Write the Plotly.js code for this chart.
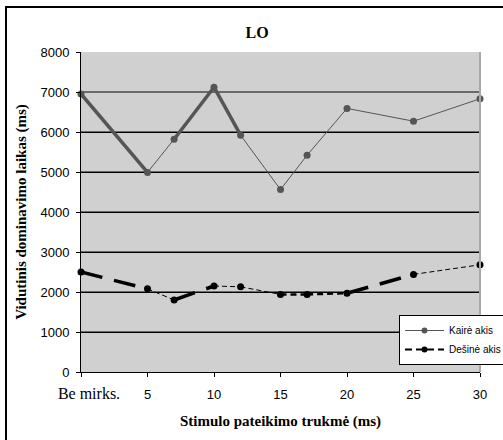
<!DOCTYPE html>
<html>
<head>
<meta charset="utf-8">
<script src="https://cdn.plot.ly/plotly-3.0.1.min.js"></script>
<style>
  html, body { margin:0; padding:0; background:#fff; overflow:hidden; }
  #frame { position:absolute; left:5px; top:6px; width:600px; height:600px; border:2px solid #000; }
  #chart { position:absolute; left:0; top:0; width:503px; height:440px; }
</style>
</head>
<body>
<div id="frame"></div>
<div id="chart"></div>
<script>
// ---- data ----
const xValues = [0, 5, 7, 10, 12, 15, 17, 20, 25, 30];
const kaireAkis = [6950, 4990, 5820, 7120, 5920, 4560, 5420, 6590, 6270, 6830];
const desineAkis = [2500, 2080, 1800, 2150, 2130, 1940, 1940, 1970, 2440, 2680];
const xTickVals = [0, 5, 10, 15, 20, 25, 30];
const xTickText = ['Be mirks.', '5', '10', '15', '20', '25', '30'];
const seriesNames = ['Kairė akis', 'Dešinė akis'];

// ---- segment styles ----
const leftSegStyle = ['thick','thin','thick','thick','thin','thin','thin','thin','thin'];
const rightSegStyle = ['long','thin','long','thin','thin','med','med','long','thin'];
const styleMap = {
  thick: {color:'#555555', width:3.5},
  thin:  {color:'#555555', width:1},
  long:  {color:'#000000', width:3.5, dash:'22px,12px'},
  rthin: {color:'#000000', width:1, dash:'5px,3px'},
  med:   {color:'#000000', width:2.5, dash:'6px,4px'}
};

const traces = [];
function addSegments(ys, segs, isRight) {
  for (let i = 0; i < ys.length - 1; i++) {
    let key = segs[i];
    if (isRight && key === 'thin') key = 'rthin';
    traces.push({
      x: [xValues[i], xValues[i+1]], y: [ys[i], ys[i+1]],
      mode: 'lines', line: styleMap[key], showlegend: false,
      hoverinfo: 'skip', cliponaxis: false
    });
  }
}
addSegments(kaireAkis, leftSegStyle, false);
addSegments(desineAkis, rightSegStyle, true);

traces.push({x: xValues, y: kaireAkis, mode:'markers', marker:{color:'#555555', size:7}, showlegend:false, cliponaxis:false, name: seriesNames[0]});
traces.push({x: xValues, y: desineAkis, mode:'markers', marker:{color:'#000000', size:7}, showlegend:false, cliponaxis:false, name: seriesNames[1]});

// legend entries
traces.push({x:[null], y:[null], yaxis:'y2', mode:'lines+markers', name: seriesNames[0],
  line:{color:'#555555', width:1}, marker:{color:'#555555', size:6}});
traces.push({x:[null], y:[null], yaxis:'y2', mode:'lines+markers', name: seriesNames[1],
  line:{color:'#000000', width:2, dash:'7px,4px'}, marker:{color:'#000000', size:6}});

const serif = 'Liberation Serif, Times New Roman, serif';
const sans = 'Liberation Sans, Arial, sans-serif';

const tickText = xTickText.map((t, i) => i === 0 ?
  '<span style="font-family:Liberation Serif;font-size:16px">&nbsp;&nbsp;&nbsp;&nbsp;' + t + '</span>' : t);

const layout = {
  width: 503, height: 440,
  margin: {l:81, r:23, t:52, b:68, autoexpand:false},
  paper_bgcolor: 'rgba(0,0,0,0)',
  plot_bgcolor: '#d0d0d0',
  title: {text:'<b>LO</b>', font:{family:serif, size:16, color:'#000'},
          x:0.511, xref:'container', y:1-32/440, yref:'container', yanchor:'middle', xanchor:'center'},
  xaxis: {
    range:[0,30], tickmode:'array', tickvals:xTickVals, ticktext:tickText,
    showgrid:false, zeroline:false, showline:true, linecolor:'#000', linewidth:1,
    ticks:'outside', ticklen:4, tickcolor:'#000', tickwidth:1,
    tickfont:{family:sans, size:13, color:'#000'}, ticklabelstandoff:6,
    title:{text:'<b>Stimulo pateikimo trukmė (ms)</b>', font:{family:serif, size:15, color:'#000'}, standoff:14}
  },
  yaxis: {
    range:[0,8000], dtick:1000, tick0:0,
    showgrid:true, gridcolor:'#6a6a6a', gridwidth:2, zeroline:false,
    showline:true, linecolor:'#000', linewidth:1,
    ticks:'outside', ticklen:4, tickcolor:'#000', tickwidth:1,
    tickfont:{family:sans, size:13, color:'#000'}, ticklabelstandoff:4,
    title:{text:'<b>Vidutinis dominavimo laikas (ms)</b>', font:{family:serif, size:15, color:'#000'}, standoff:10}
  },
  yaxis2: {
    overlaying:'y', range:[0,8000], tickmode:'array', tickvals:[1000,2000,3000,4000,5000,6000],
    showgrid:true, gridcolor:'#000', gridwidth:1, zeroline:false,
    showticklabels:false, ticks:'', showline:false
  },
  shapes: [
    {type:'line', xref:'paper', yref:'paper', x0:1, x1:1, y0:0, y1:1, line:{color:'#a8a8a8', width:2}}
  ],
  showlegend: true,
  legend: {
    x:(399-81)/399, y:(372-315)/320, xanchor:'left', yanchor:'top',
    bgcolor:'#ffffff', bordercolor:'#000', borderwidth:1,
    font:{family:sans, size:10, color:'#000'},
    tracegroupgap:0, itemwidth:39
  }
};

Plotly.newPlot('chart', traces, layout, {displayModeBar:false, staticPlot:true});
</script>
</body>
</html>
